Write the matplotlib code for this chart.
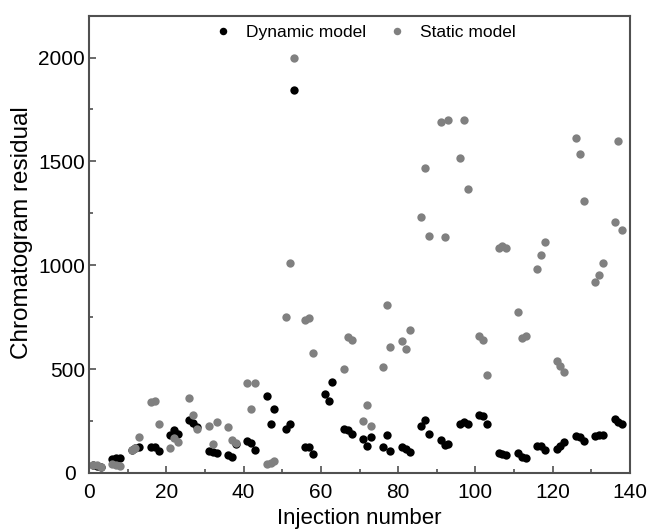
import matplotlib
matplotlib.use("Agg")
import matplotlib.pyplot as plt
from matplotlib.ticker import MultipleLocator
from matplotlib.transforms import ScaledTranslation

plt.rcParams['font.family'] = ['Liberation Sans', 'DejaVu Sans']

nan = float('nan')

# Injection numbers: groups of three, every five injections
injection = [1, 2, 3, 6, 7, 8, 11, 12, 13, 16, 17, 18, 21, 22, 23, 26, 27, 28,
             31, 32, 33, 36, 37, 38, 41, 42, 43, 46, 47, 48, 51, 52, 53,
             56, 57, 58, 61, 62, 63, 66, 67, 68, 71, 72, 73, 76, 77, 78,
             81, 82, 83, 86, 87, 88, 91, 92, 93, 96, 97, 98, 101, 102, 103,
             106, 107, 108, 111, 112, 113, 116, 117, 118, 121, 122, 123,
             126, 127, 128, 131, 132, 133, 136, 137, 138]

dynamic_model = [38, 35, 28, 65, 70, 72, 110, 120, 125, 125, 125, 105,
                 185, 205, 190, 255, 240, 220, 105, 100, 95, 85, 75, 140,
                 155, 145, 110, 370, 235, 310, 210, 235, 1845,
                 125, 125, 90, 380, 345, 440, 210, 205, 190, 165, 130, 175,
                 125, 185, 105, 125, 115, 100, 225, 255, 190, 160, 135, 140,
                 235, 245, 235, 280, 275, 235, 95, 92, 85, 95, 75, 72,
                 130, 130, 110, 115, 130, 150, 180, 175, 155, 180, 185, 185,
                 262, 245, 235]

static_model = [40, 38, 30, 45, 40, 32, 110, 120, 172, 340, 345, 235,
                120, 170, 150, 360, 280, 210, 225, 140, 245, 222, 158, 145,
                435, 310, 435, 45, 50, 60, 750, 1010, 2000,
                735, 745, 580, nan, nan, nan, 500, 655, 640, 252, 325, 225,
                510, 810, 605, 635, 595, 690, 1230, 1470, 1140, 1690, 1135, 1700,
                1515, 1700, 1365, 660, 640, 470, 1085, 1095, 1085, 775, 650, 660,
                980, 1050, 1110, 540, 515, 485, 1615, 1535, 1310, 920, 955, 1010,
                1210, 1600, 1170]

x_ticks = [0, 20, 40, 60, 80, 100, 120, 140]
y_ticks = [0, 500, 1000, 1500, 2000]

fig = plt.figure(figsize=(6.52, 5.29), dpi=100)
ax = fig.add_axes([89/652, 1 - 473/529, (630-89)/652, (473-16)/529])

ax.plot(injection, dynamic_model, 'o', color='black', markersize=6,
        markeredgewidth=0, label='Dynamic model')
ax.plot(injection, static_model, 'o', color='#808080', markersize=6,
        markeredgewidth=0, label='Static model')

ax.set_xlim(0, 140)
ax.set_ylim(0, 2200)
ax.set_xticks(x_ticks)
ax.set_yticks(y_ticks)
ax.xaxis.set_minor_locator(MultipleLocator(10))
ax.yaxis.set_minor_locator(MultipleLocator(250))
ax.tick_params(which='both', direction='in', colors='#505050', labelcolor='black',
               labelsize=15, width=1.2)
ax.tick_params(axis='x', which='major', pad=7)
ax.tick_params(axis='y', which='major', pad=3)
ax.tick_params(which='major', length=5)
ax.tick_params(which='minor', length=3)
for s in ax.spines.values():
    s.set_color('#505050')
    s.set_linewidth(1.5)

# the "0" on the y axis sits a little further left in the reference
zero_lab = ax.yaxis.get_major_ticks()[0].label1
zero_lab.set_transform(zero_lab.get_transform() +
                       ScaledTranslation(-9/100, 0, fig.dpi_scale_trans))

ax.set_xlabel('Injection number', fontsize=16, labelpad=4.5)
ax.set_ylabel('Chromatogram residual', fontsize=17.5)
ax.yaxis.set_label_coords(-0.104, 0.525)

leg = ax.legend(loc='upper center', bbox_to_anchor=(0.507, 1.0), ncol=2,
                frameon=False, fontsize=12.5, handletextpad=0.57,
                columnspacing=1.03, markerscale=0.9, borderaxespad=0.1,
                handlelength=1.5)

fig.savefig('out.png', dpi=100)
